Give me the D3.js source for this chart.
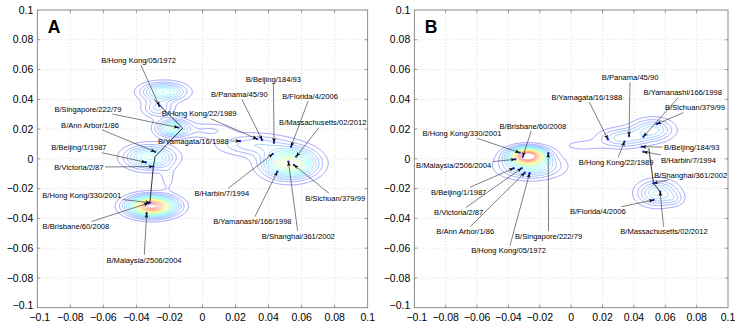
<!DOCTYPE html>
<html>
<head>
<meta charset="utf-8">
<script src="https://cdn.jsdelivr.net/npm/d3@7"></script>
<style>
  body { margin: 0; background: #fff; }
  svg text { font-family: "Liberation Sans", Arial, Helvetica, sans-serif; }
</style>
</head>
<body>
<script>
// tick values and their printed labels (same on both axes of both panels)
const tickValues = [-0.1, -0.08, -0.06, -0.04, -0.02, 0, 0.02, 0.04, 0.06, 0.08, 0.1];
const tickLabels = ["\u22120.1", "\u22120.08", "\u22120.06", "\u22120.04", "\u22120.02", "0",
                    "0.02", "0.04", "0.06", "0.08", "0.1"];

// strains: x, y = the point, lx, ly = where its label sits (data units)
const strainsA = [
  { name: "B/Hong Kong/05/1972",    x: -0.0261, y:  0.0355, lx: -0.0387, ly:  0.0664 },
  { name: "B/Singapore/222/79",     x: -0.0146, y:  0.0210, lx: -0.0693, ly:  0.0335 },
  { name: "B/Hong Kong/22/1989",    x:  0.0330, y:  0.0134, lx: -0.0020, ly:  0.0304 },
  { name: "B/Ann Arbor/1/86",       x: -0.0287, y:  0.0048, lx: -0.0681, ly:  0.0228 },
  { name: "B/Yamagata/16/1988",     x:  0.0227, y:  0.0120, lx: -0.0055, ly:  0.0120 },
  { name: "B/Beijing/1/1987",       x: -0.0344, y: -0.0023, lx: -0.0748, ly:  0.0075 },
  { name: "B/Victoria/2/87",        x: -0.0298, y: -0.0052, lx: -0.0748, ly: -0.0056 },
  { name: "B/Hong Kong/330/2001",   x: -0.0318, y: -0.0294, lx: -0.0731, ly: -0.0243 },
  { name: "B/Brisbane/60/2008",     x: -0.0328, y: -0.0298, lx: -0.0766, ly: -0.0455 },
  { name: "B/Malaysia/2506/2004",   x: -0.0338, y: -0.0365, lx: -0.0354, ly: -0.0679 },
  { name: "B/Beijing/184/93",       x:  0.0433, y:  0.0109, lx:  0.0429, ly:  0.0535 },
  { name: "B/Panama/45/90",         x:  0.0361, y:  0.0127, lx:  0.0223, ly:  0.0434 },
  { name: "B/Florida/4/2006",       x:  0.0536, y:  0.0082, lx:  0.0651, ly:  0.0423 },
  { name: "B/Massachusetts/02/2012",x:  0.0567, y:  0.0015, lx:  0.0728, ly:  0.0243 },
  { name: "B/Harbin/7/1994",        x:  0.0425, y:  0.0033, lx:  0.0117, ly: -0.0231 },
  { name: "B/Yamanashi/166/1998",   x:  0.0453, y: -0.0086, lx:  0.0302, ly: -0.0422 },
  { name: "B/Shanghai/361/2002",    x:  0.0520, y: -0.0019, lx:  0.0580, ly: -0.0518 },
  { name: "B/Sichuan/379/99",       x:  0.0554, y: -0.0041, lx:  0.0803, ly: -0.0265 }
];

const strainsB = [
  { name: "B/Hong Kong/330/2001",   x: -0.0329, y:  0.0042, lx: -0.0696, ly:  0.0172 },
  { name: "B/Brisbane/60/2008",     x: -0.0308, y:  0.0015, lx: -0.0244, ly:  0.0221 },
  { name: "B/Malaysia/2506/2004",   x: -0.0357, y: -0.0003, lx: -0.0749, ly: -0.0046 },
  { name: "B/Beijing/1/1987",       x: -0.0367, y: -0.0063, lx: -0.0717, ly: -0.0224 },
  { name: "B/Victoria/2/87",        x: -0.0316, y: -0.0063, lx: -0.0717, ly: -0.0361 },
  { name: "B/Ann Arbor/1/86",       x: -0.0296, y: -0.0093, lx: -0.0675, ly: -0.0489 },
  { name: "B/Hong Kong/05/1972",    x: -0.0265, y: -0.0097, lx: -0.0399, ly: -0.0617 },
  { name: "B/Singapore/222/79",     x: -0.0146, y:  0.0038, lx: -0.0144, ly: -0.0518 },
  { name: "B/Yamagata/16/1988",     x:  0.0234, y:  0.0132, lx:  0.0100, ly:  0.0414 },
  { name: "B/Panama/45/90",         x:  0.0369, y:  0.0154, lx:  0.0376, ly:  0.0548 },
  { name: "B/Hong Kong/22/1989",    x:  0.0340, y:  0.0116, lx:  0.0287, ly: -0.0023 },
  { name: "B/Yamanashi/166/1998",   x:  0.0461, y:  0.0149, lx:  0.0711, ly:  0.0445 },
  { name: "B/Sichuan/379/99",       x:  0.0546, y:  0.0234, lx:  0.0790, ly:  0.0344 },
  { name: "B/Beijing/184/93",       x:  0.0450, y:  0.0082, lx:  0.0769, ly:  0.0075 },
  { name: "B/Harbin/7/1994",        x:  0.0461, y:  0.0048, lx:  0.0748, ly: -0.0007 },
  { name: "B/Shanghai/361/2002",    x:  0.0525, y: -0.0164, lx:  0.0762, ly: -0.0108 },
  { name: "B/Massachusetts/02/2012",x:  0.0567, y: -0.0220, lx:  0.0592, ly: -0.0489 },
  { name: "B/Florida/4/2006",       x:  0.0525, y: -0.0276, lx:  0.0170, ly: -0.0355 }
];

// black trunk line drawn through the map
const trunkA = [[-0.0292, 0.0396], [-0.0120, 0.0206], [-0.0287, 0.0015], [-0.0298, -0.0056], [-0.0318, -0.0290]];
const trunkB = [[0.0495, 0.0070], [0.0525, -0.0164], [0.0567, -0.0220]];

// density clusters (centre, spread, height)
const blobsA = [
  { x: -0.0307, y: -0.0318, sx: 0.0090, sy: 0.0043, w: 1.00 },
  { x: -0.0210, y: -0.0130, sx: 0.0030, sy: 0.0060, w: 0.07 },
  { x: -0.0320, y:  0.0010, sx: 0.0095, sy: 0.0051, w: 0.40 },
  { x: -0.0180, y:  0.0206, sx: 0.0062, sy: 0.0037, w: 0.43 },
  { x:  0.0040, y:  0.0190, sx: 0.0100, sy: 0.0035, w: 0.10 },
  { x: -0.0237, y:  0.0451, sx: 0.0086, sy: 0.0039, w: 0.38 },
  { x: -0.0270, y:  0.0340, sx: 0.0060, sy: 0.0040, w: 0.20 },
  { x:  0.0530, y: -0.0030, sx: 0.0102, sy: 0.0064, w: 0.62 },
  { x:  0.0310, y:  0.0095, sx: 0.0140, sy: 0.0048, w: 0.18 }
];

const blobsB = [
  { x: -0.0278, y:  0.0022, sx: 0.0075, sy: 0.0035, w: 1.00 },
  { x: -0.0260, y: -0.0050, sx: 0.0120, sy: 0.0050, w: 0.35 },
  { x:  0.0070, y:  0.0090, sx: 0.0100, sy: 0.0028, w: 0.065 },
  { x:  0.0520, y:  0.0195, sx: 0.0085, sy: 0.0048, w: 0.26 },
  { x:  0.0330, y:  0.0140, sx: 0.0100, sy: 0.0042, w: 0.22 },
  { x:  0.0550, y: -0.0230, sx: 0.0083, sy: 0.0055, w: 0.30 },
  { x:  0.0660, y: -0.0270, sx: 0.0040, sy: 0.0030, w: 0.08 }
];

const nLevels = 20;

const width = 754, height = 331;
const plotTop = 10, plotBottom = 307.7;

const svg = d3.select("body").append("svg")
  .attr("width", width)
  .attr("height", height);

// arrow head
svg.append("defs").append("marker")
  .attr("id", "head")
  .attr("markerUnits", "userSpaceOnUse")
  .attr("markerWidth", 8).attr("markerHeight", 8)
  .attr("viewBox", "-6 -4 8 8")
  .attr("refX", 0).attr("refY", 0)
  .attr("orient", "auto")
  .append("path")
  .attr("d", "M0,0L-4.6,-1.9L-3.3,0L-4.6,1.9Z")
  .attr("fill", "#000");

// jet colormap, washed out a bit like the original
function jet(t) {
  const c = v => Math.max(0, Math.min(1, v));
  const r = c(1.5 - Math.abs(4 * t - 3)),
        g = c(1.5 - Math.abs(4 * t - 2)),
        b = c(1.5 - Math.abs(4 * t - 1));
  const a = 0.5;
  return d3.rgb((r * (1 - a) + a) * 255, (g * (1 - a) + a) * 255, (b * (1 - a) + a) * 255);
}
const levelColor = k => jet(0.12 + 0.78 * k / (nLevels - 1));

const panels = [
  { tag: "A", left: 37.3, right: 367.7, strains: strainsA, blobs: blobsA, trunk: trunkA },
  { tag: "B", left: 414.3, right: 728, strains: strainsB, blobs: blobsB, trunk: trunkB }
];

panels.forEach(drawPanel);

function drawPanel(p) {
  const x = d3.scaleLinear().domain([-0.1, 0.1]).range([p.left, p.right]);
  const y = d3.scaleLinear().domain([-0.1, 0.1]).range([plotBottom, plotTop]);
  const g = svg.append("g");

  svg.select("defs").append("clipPath").attr("id", "clip" + p.tag)
    .append("rect")
    .attr("x", p.left).attr("y", plotTop)
    .attr("width", p.right - p.left).attr("height", plotBottom - plotTop);

  // dotted grid
  const inner = tickValues.slice(1, -1);
  g.append("g").selectAll("line.gx").data(inner).join("line")
    .attr("x1", d => x(d)).attr("x2", d => x(d))
    .attr("y1", plotTop).attr("y2", plotBottom)
    .attr("stroke", "#c8c8c8").attr("stroke-width", 0.6)
    .attr("stroke-dasharray", "1,2");
  g.append("g").selectAll("line.gy").data(inner).join("line")
    .attr("y1", d => y(d)).attr("y2", d => y(d))
    .attr("x1", p.left).attr("x2", p.right)
    .attr("stroke", "#c8c8c8").attr("stroke-width", 0.6)
    .attr("stroke-dasharray", "1,2");

  // density grid -> contour lines
  const n = 400, step = 0.2 / n, m = n + 1;
  const values = new Float64Array(m * m);
  for (let j = 0; j < m; j++) {
    const yv = 0.1 - j * step;
    for (let i = 0; i < m; i++) {
      const xv = -0.1 + i * step;
      let s = 0;
      for (const b of p.blobs) {
        const dx = (xv - b.x) / b.sx, dy = (yv - b.y) / b.sy;
        s += b.w * Math.exp(-0.5 * (dx * dx + dy * dy));
      }
      values[j * m + i] = s;
    }
  }
  const levels = d3.range(1, nLevels + 1).map(k => k / (nLevels + 1));
  const contours = d3.contours().size([m, m]).thresholds(levels)(values);
  const proj = d3.geoTransform({
    point(px, py) {
      this.stream.point(x(-0.1 + (px - 0.5) * step), y(0.1 - (py - 0.5) * step));
    }
  });
  const geo = d3.geoPath(proj);
  g.append("g").attr("clip-path", "url(#clip" + p.tag + ")")
    .selectAll("path").data(contours).join("path")
    .attr("d", geo)
    .attr("fill", "none")
    .attr("stroke", (d, k) => levelColor(k))
    .attr("stroke-width", 0.75);

  // frame and ticks
  g.append("rect")
    .attr("x", p.left).attr("y", plotTop)
    .attr("width", p.right - p.left).attr("height", plotBottom - plotTop)
    .attr("fill", "none").attr("stroke", "#6e6e6e").attr("stroke-width", 0.8);

  const tl = 3;
  const tk = g.append("g").attr("stroke", "#6e6e6e").attr("stroke-width", 0.7);
  inner.forEach(v => {
    tk.append("line").attr("x1", x(v)).attr("x2", x(v)).attr("y1", plotBottom).attr("y2", plotBottom - tl);
    tk.append("line").attr("x1", x(v)).attr("x2", x(v)).attr("y1", plotTop).attr("y2", plotTop + tl);
    tk.append("line").attr("y1", y(v)).attr("y2", y(v)).attr("x1", p.left).attr("x2", p.left + tl);
    tk.append("line").attr("y1", y(v)).attr("y2", y(v)).attr("x1", p.right).attr("x2", p.right - tl);
  });

  // tick labels (the bottom-left pair is nudged apart so they do not collide)
  g.append("g").selectAll("text").data(tickValues).join("text")
    .attr("x", (d, i) => x(d) + (i === 0 ? 2.5 : 0)).attr("y", plotBottom + 13)
    .attr("text-anchor", "middle")
    .attr("font-size", 10.5)
    .text((d, i) => tickLabels[i]);
  g.append("g").selectAll("text").data(tickValues).join("text")
    .attr("x", p.left - 4).attr("y", (d, i) => y(d) - (i === 0 ? 2 : 0)).attr("dy", "0.35em")
    .attr("text-anchor", "end")
    .attr("font-size", 10.5)
    .text((d, i) => tickLabels[i]);

  // panel letter
  g.append("text")
    .attr("x", p.left + 10.5).attr("y", 33.3)
    .attr("font-size", 17.5).attr("font-weight", "bold")
    .text(p.tag);

  // trunk
  const line = d3.line().x(d => x(d[0])).y(d => y(d[1]));
  g.append("path").datum(p.trunk)
    .attr("d", line)
    .attr("fill", "none").attr("stroke", "#000").attr("stroke-width", 0.8);

  // strain points
  g.append("g").selectAll("circle").data(p.strains).join("circle")
    .attr("cx", d => x(d.x)).attr("cy", d => y(d.y)).attr("r", 1.2)
    .attr("fill", "#2a2aff");

  // labels and arrows
  const lab = g.append("g");
  p.strains.forEach(d => {
    const cx = x(d.lx), cy = y(d.ly);
    const t = lab.append("text")
      .attr("x", cx).attr("y", cy).attr("dy", "0.35em")
      .attr("text-anchor", "middle")
      .attr("font-size", 7.6)
      .text(d.name);
    const w = t.node().getComputedTextLength();
    const hw = w / 2 + 1.5, hh = 5;
    const tx = x(d.x), ty = y(d.y);
    const dx = tx - cx, dy = ty - cy;
    const s = Math.min(dx ? hw / Math.abs(dx) : Infinity, dy ? hh / Math.abs(dy) : Infinity);
    if (s < 1) {
      lab.append("line")
        .attr("x1", cx + s * dx).attr("y1", cy + s * dy)
        .attr("x2", tx).attr("y2", ty)
        .attr("stroke", "#000").attr("stroke-width", 0.5)
        .attr("marker-end", "url(#head)");
    }
  });
}
</script>
</body>
</html>
